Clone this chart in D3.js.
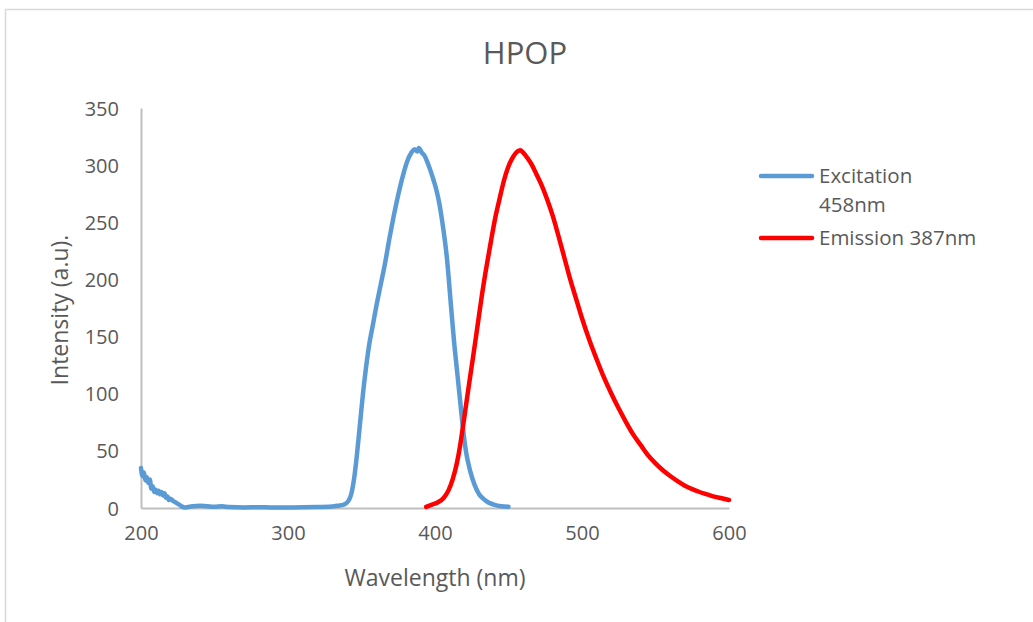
<!DOCTYPE html>
<html>
<head>
<meta charset="utf-8">
<script src="https://cdn.jsdelivr.net/npm/d3@7/dist/d3.min.js"></script>
<style>
  body { margin: 0; background: #fff; }
  svg { display: block; }
  text { font-family: 'Open Sans', sans-serif; fill: #595959; }
</style>
</head>
<body>
<svg width="1033" height="622"></svg>
<script>
// excitation spectrum (blue)
var excWl = [200, 201, 202, 203, 204, 205, 206, 207, 208, 209, 210, 211, 212, 213, 214, 215, 216, 217, 218, 219, 220,
  222, 224, 226, 228, 230, 235, 240, 245, 250, 255, 260, 270, 280, 290, 300, 310, 320, 328, 334, 338, 341, 343, 345,
  347, 349, 351, 353, 355, 358, 360, 363, 366, 369, 372, 375, 378, 381, 384, 386, 388, 389, 391, 393, 395, 397, 399,
  401, 403, 405, 408, 411, 413, 415, 417, 419, 421, 424, 427, 430, 433, 436, 440, 445, 450]
var excVal = [35, 28, 31, 24, 27, 22, 25, 17, 19, 14, 16, 13, 15, 12, 14, 11, 13, 9, 10, 7, 8,
  6, 4.5, 3, 1.2, 0.5, 1.5, 2, 1.5, 1, 1.5, 0.8, 0.5, 0.7, 0.4, 0.5, 0.6, 0.8, 1, 2, 3, 6, 12, 26,
  48, 74, 100, 122, 141, 162, 176, 195, 214, 236, 256, 274, 290, 303, 311, 314, 312, 315, 311, 308, 302, 295, 287,
  278, 266, 250, 220, 175, 145, 120, 95, 70, 50, 32, 20, 12, 8, 5, 3, 1.5, 1]

// emission spectrum (red)
var emWl = [394, 398, 402, 406, 409, 412, 415, 417, 420, 423, 426, 429, 432, 435, 438, 441, 444, 447, 450, 453, 456,
  458, 460, 463, 466, 469, 472, 476, 480, 484, 488, 492, 496, 500, 505, 510, 515, 520, 525, 530, 535, 540, 545, 550,
  555, 560, 565, 570, 575, 580, 585, 590, 595, 600]
var emVal = [1, 3, 5, 9, 15, 25, 40, 54, 80, 107, 133, 160, 187, 211, 233, 254, 271, 287, 299, 307, 312,
  313, 311, 306, 300, 292, 284, 271, 256, 238, 219, 200, 183, 166, 147, 130, 114, 100, 87, 75, 64, 55, 46, 39,
  33, 28, 23.5, 19.5, 16.5, 14, 12, 10, 8.5, 7]

var xTicks = [200, 300, 400, 500, 600]
var yTicks = [0, 50, 100, 150, 200, 250, 300, 350]

var series = [
  { name: ['Excitation', '458nm'], color: '#5b9bd5', wl: excWl, val: excVal },
  { name: ['Emission 387nm'], color: '#ff0000', wl: emWl, val: emVal }
]

var svg = d3.select('svg')

// chart frame
svg.append('rect')
  .attr('x', 5.5).attr('y', 9.5)
  .attr('width', 1040).attr('height', 640)
  .attr('fill', 'none')
  .attr('stroke', '#d9d9d9')
  .attr('stroke-width', 1.5)

var x = d3.scaleLinear().domain([200, 600]).range([141, 729])
var y = d3.scaleLinear().domain([0, 350]).range([508, 108])

// axes
var xAxis = svg.append('g').attr('transform', 'translate(0,508)')
  .call(d3.axisBottom(x).tickValues(xTicks).tickSize(0).tickPadding(18))
var yAxis = svg.append('g').attr('transform', 'translate(141,0)')
  .call(d3.axisLeft(y).tickValues(yTicks).tickSize(0).tickPadding(22))

;[xAxis, yAxis].forEach(function (ax) {
  ax.select('.domain').attr('stroke', '#bfbfbf').attr('stroke-width', 2)
  ax.selectAll('text').attr('font-size', 20).attr('font-family', null).attr('fill', '#595959')
})
yAxis.selectAll('text').attr('dy', '0.35em')

// lines
var line = d3.line()
  .x(function (d) { return x(d[0]) })
  .y(function (d) { return y(d[1]) })
  .curve(d3.curveMonotoneX)

series.forEach(function (s) {
  svg.append('path')
    .datum(d3.zip(s.wl, s.val))
    .attr('d', line)
    .attr('fill', 'none')
    .attr('stroke', s.color)
    .attr('stroke-width', 4.5)
    .attr('stroke-linejoin', 'round')
    .attr('stroke-linecap', 'round')
})

// titles
svg.append('text')
  .attr('x', 525).attr('y', 64)
  .attr('text-anchor', 'middle')
  .attr('font-size', 31)
  .text('HPOP')

svg.append('text')
  .attr('x', 435).attr('y', 586)
  .attr('text-anchor', 'middle')
  .attr('font-size', 23)
  .text('Wavelength (nm)')

svg.append('text')
  .attr('transform', 'translate(68,310) rotate(-90)')
  .attr('text-anchor', 'middle')
  .attr('font-size', 23)
  .text('Intensity (a.u).')

// legend
var legend = svg.append('g')
var rowY = [176, 238]
series.forEach(function (s, i) {
  legend.append('line')
    .attr('x1', 761).attr('x2', 812)
    .attr('y1', rowY[i]).attr('y2', rowY[i])
    .attr('stroke', s.color)
    .attr('stroke-width', 4.5)
    .attr('stroke-linecap', 'round')
  s.name.forEach(function (t, j) {
    legend.append('text')
      .attr('x', 819).attr('y', rowY[i] + 7 + j * 29)
      .attr('font-size', 20.5)
      .text(t)
  })
})
</script>
</body>
</html>
